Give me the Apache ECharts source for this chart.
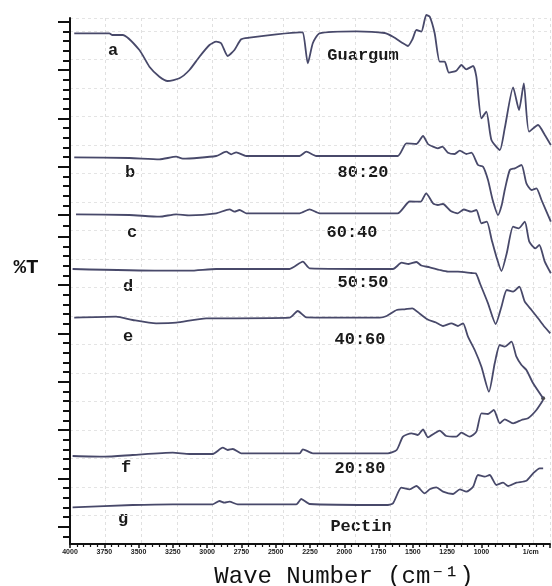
<!DOCTYPE html>
<html>
<head>
<meta charset="utf-8">
<script src="https://cdn.jsdelivr.net/npm/echarts@6/dist/echarts.min.js"></script>
<style>
  html, body { margin: 0; padding: 0; background: #ffffff; }
  #chart { width: 552px; height: 586px; }
</style>
</head>
<body>
<div id="chart"></div>
<script>
// ---- data: [wavenumber (cm-1), %T (offset, arbitrary units)] ----
const traceA = [[3969,510.7],[3713,510.7],[3691,509],[3616,509],[3494,494],[3421,477.3],[3348,467.3],[3288,463],[3202,465.7],[3129,474],[3056,487.3],[2983,499],[2934,502.3],[2898,500.7],[2850,488],[2801,494],[2752,504.7],[2691,506.3],[2496,509.7],[2326,511.7],[2302,511.7],[2266,480.7],[2229,501],[2180,510.7],[1912,512.7],[1706,511],[1645,507.3],[1572,500.7],[1536,498],[1502,505],[1474,514],[1438,512.3],[1402,529],[1377,527.3],[1341,510.7],[1304,482.3],[1268,482.3],[1237,471.3],[1183,473.3],[1146,479],[1110,474.7],[1061,478],[1037,467.3],[1000,425.7],[964,432.3],[927,404],[866,394],[830,415.7],[769,456.7],[726,434],[691,460.7],[653,412.3],[587,419],[538,409],[494,399]];
const traceB = [[3969,386.7],[3567,386],[3348,384.7],[3226,387.3],[3178,385.3],[2934,388],[2861,392.3],[2825,389.7],[2788,391.7],[2715,388],[2326,388],[2277,392.3],[2204,388],[1611,388],[1547,400.7],[1474,400],[1426,408],[1390,400],[1353,397.3],[1317,395.7],[1285,397.3],[1244,391.3],[1195,390],[1158,393.3],[1110,390],[1073,391.3],[1025,379],[988,377.3],[952,364],[918,344],[879,329],[852,339],[830,354],[793,374],[757,375.7],[708,379],[672,360.7],[635,354],[599,355.7],[562,344],[494,322.3]];
const traceC = [[3956,329.7],[3567,329],[3348,327.3],[3226,329.7],[3129,328.7],[2934,330.7],[2837,334.7],[2801,332.3],[2764,334],[2715,330.7],[2326,330.7],[2253,334.7],[2180,330.7],[1611,330.7],[1523,342.5],[1443,342.3],[1403,350.7],[1353,340.7],[1317,339],[1280,340],[1224,333],[1173,330.7],[1129,334.5],[1073,332.3],[1037,334],[1000,320.7],[961,322.3],[925,304],[891,287.3],[854,273],[815,291],[769,317.3],[728,315.7],[684,322.3],[651,302.3],[607,295.7],[578,299],[538,282.3],[494,270.7]];
const traceD = [[3981,275],[3348,273.3],[3129,273.3],[2934,275],[2399,275],[2302,282.3],[2253,275.7],[1645,275],[1582,281.3],[1531,280],[1474,282],[1438,278.5],[1377,276.7],[1304,274],[1244,272.3],[1171,272.3],[1073,271],[1042,270.7],[1009,260],[952,240.7],[896,220],[854,237.3],[815,254],[769,252.3],[724,257.3],[684,242.3],[635,234],[587,225.7],[545,218],[498,210.7]];
const traceE = [[3969,226.3],[3664,227.3],[3543,224],[3372,220.7],[3226,221.3],[3007,225.7],[2788,225.7],[2399,226.3],[2339,233],[2277,226.7],[1742,226.3],[1691,228],[1618,234],[1560,234.7],[1505,235.7],[1447,230],[1392,224.5],[1331,221.5],[1280,218],[1219,220.7],[1171,218],[1134,220.7],[1098,207.3],[1049,194],[1000,177.3],[945,152.3],[903,180.7],[866,199],[830,197.3],[781,202.3],[745,187.3],[708,179],[672,174],[623,160.7],[550,145.7]];
const traceF = [[3981,88],[3750,87.3],[3543,89],[3251,91.3],[3129,90],[2959,90],[2886,96.3],[2850,94],[2813,95],[2752,90.7],[2326,90.7],[2302,94.7],[2229,90.7],[1682,90.7],[1618,94],[1572,107.3],[1511,110.7],[1463,109],[1426,114.7],[1390,106.7],[1341,110.7],[1304,113.3],[1256,108],[1183,107.3],[1146,111.3],[1085,107.3],[1037,112.3],[1000,130.7],[952,130],[910,134],[866,120.7],[830,124.7],[769,120.7],[708,124],[660,125.7],[599,134],[550,144]];
const traceG = [[3981,36.7],[3543,39],[3251,39.7],[2959,39.7],[2910,43],[2874,41.3],[2837,42.3],[2777,39.7],[2350,39.7],[2314,45],[2253,40],[1693,39],[1645,40.7],[1584,56.3],[1523,54.7],[1474,58],[1414,50.7],[1377,54.7],[1329,56.7],[1280,52.3],[1207,50],[1158,54.7],[1110,52.3],[1061,57.3],[1025,69],[976,67.3],[940,69],[891,59],[842,61.3],[806,58],[745,61.3],[672,63.3],[623,70.7],[575,75.7],[550,75.7]];

const xTickLabels = [4000,3750,3500,3250,3000,2750,2500,2250,2000,1750,1500,1250,1000];
const unitTickValue = 640;
const unitTickText = '1/cm';
const sampleLetters = ['a','b','c','d','e','f','g'];
const sampleNames = ['Guargum','80:20','60:40','50:50','40:60','20:80','Pectin'];
const yAxisTitle = '%T';
const xAxisTitle = 'Wave Number (cm\u207B\u00B9)';

// ---- layout (pixels) ----
const letterPos = [[113,51],[130,173],[132,233],[128,287],[128,337],[126,468],[123,519]];
const namePos = [[363,56],[363,173],[352,233],[363,283],[360,340],[360,469],[361,527]];

// y-axis tick positions (scan has a splice in the middle)
const yMajorTicks = [522.3,474,425.7,377.3,329,307.3,259,210.7,162.3,114,65.7,17.3];
const yMinorTicks = [];
for (let i = 0; i < yMajorTicks.length - 1; i++) {
  const a = yMajorTicks[i], b = yMajorTicks[i+1];
  const n = Math.round((a - b) / 9.66);
  for (let k = 1; k < n; k++) yMinorTicks.push(a - (a - b) * k / n);
}
yMinorTicks.push(17.3 - 9.66);

const traces = [traceA, traceB, traceC, traceD, traceE, traceF, traceG];
const lineColor = '#48496a';
const font = '"Liberation Mono", "Courier New", monospace';

const series = traces.map(t => ({
  type: 'line',
  data: t,
  xAxisIndex: 0,
  yAxisIndex: 0,
  showSymbol: false,
  smooth: 0.2,
  clip: false,
  silent: true,
  lineStyle: { color: lineColor, width: 1.8 }
}));
series.push({
  type: 'scatter',
  data: [traceE[traceE.length - 1]],
  symbolSize: 4,
  clip: false,
  silent: true,
  itemStyle: { color: '#222' }
});

const graphics = [];
sampleLetters.forEach((s, i) => {
  graphics.push({ type: 'text', x: letterPos[i][0], y: letterPos[i][1], silent: true,
    style: { text: s, font: 'bold 17px ' + font, fill: '#1a1a1a', textAlign: 'center', textVerticalAlign: 'middle',
             backgroundColor: '#ffffff', padding: [1, 2] } });
});
sampleNames.forEach((s, i) => {
  graphics.push({ type: 'text', x: namePos[i][0], y: namePos[i][1], silent: true,
    style: { text: s, font: 'bold 17px ' + font, fill: '#1a1a1a', textAlign: 'center', textVerticalAlign: 'middle',
             backgroundColor: '#ffffff', padding: [1, 2] } });
});
graphics.push({ type: 'text', x: 26, y: 268, silent: true,
  style: { text: yAxisTitle, font: 'bold 21px ' + font, fill: '#111', textAlign: 'center', textVerticalAlign: 'middle' } });
graphics.push({ type: 'text', x: 344, y: 577, silent: true,
  style: { text: xAxisTitle, font: '24px ' + font, fill: '#111', textAlign: 'center', textVerticalAlign: 'middle' } });

const chart = echarts.init(document.getElementById('chart'), null, { renderer: 'canvas' });
chart.setOption({
  animation: false,
  backgroundColor: '#ffffff',
  grid: { left: 70, right: 2, top: 18, bottom: 42, containLabel: false },
  xAxis: [
    {
      type: 'value', inverse: true, min: 500, max: 4000, interval: 250,
      axisLine: { show: true, onZero: false, lineStyle: { color: '#111', width: 2 } },
      axisTick: { show: true, length: 4, lineStyle: { color: '#111', width: 1.5 } },
      minorTick: { show: true, splitNumber: 5, length: 3, lineStyle: { color: '#111', width: 1.2 } },
      axisLabel: {
        show: true, margin: 5, fontSize: 7, fontWeight: 'bold', color: '#222',
        fontFamily: '"Liberation Sans", Arial, sans-serif',
        customValues: xTickLabels.concat([unitTickValue]),
        formatter: v => (v === unitTickValue ? unitTickText : (v < 1000 ? '' : String(v)))
      },
      splitLine: { show: false }
    },
    {
      type: 'value', min: 0, max: 3369, interval: 250, position: 'bottom',
      axisLine: { show: false }, axisTick: { show: false }, axisLabel: { show: false },
      splitLine: { show: true, lineStyle: { color: '#e0e0e0', width: 1, type: [3, 3] } }
    }
  ],
  yAxis: [
    {
      type: 'value', min: 0, max: 526, position: 'left', offset: 0,
      axisLine: { show: true, onZero: false, lineStyle: { color: '#111', width: 2 } },
      axisTick: { show: true, inside: false, length: 12, customValues: yMajorTicks, lineStyle: { color: '#111', width: 2 } },
      axisLabel: { show: false },
      splitLine: { show: false }
    },
    {
      type: 'value', min: 0, max: 526, position: 'left', offset: 0,
      axisLine: { show: false },
      axisTick: { show: true, inside: false, length: 7, customValues: yMinorTicks, lineStyle: { color: '#111', width: 2 } },
      axisLabel: { show: false },
      splitLine: { show: false }
    },
    {
      type: 'value', min: 0, max: 526, interval: 28.5, position: 'left', offset: 0,
      axisLine: { show: false }, axisTick: { show: false }, axisLabel: { show: false },
      splitLine: { show: true, lineStyle: { color: '#e4e4e4', width: 1, type: [3, 3] } }
    }
  ],
  series: series,
  graphic: graphics
});
</script>
</body>
</html>
